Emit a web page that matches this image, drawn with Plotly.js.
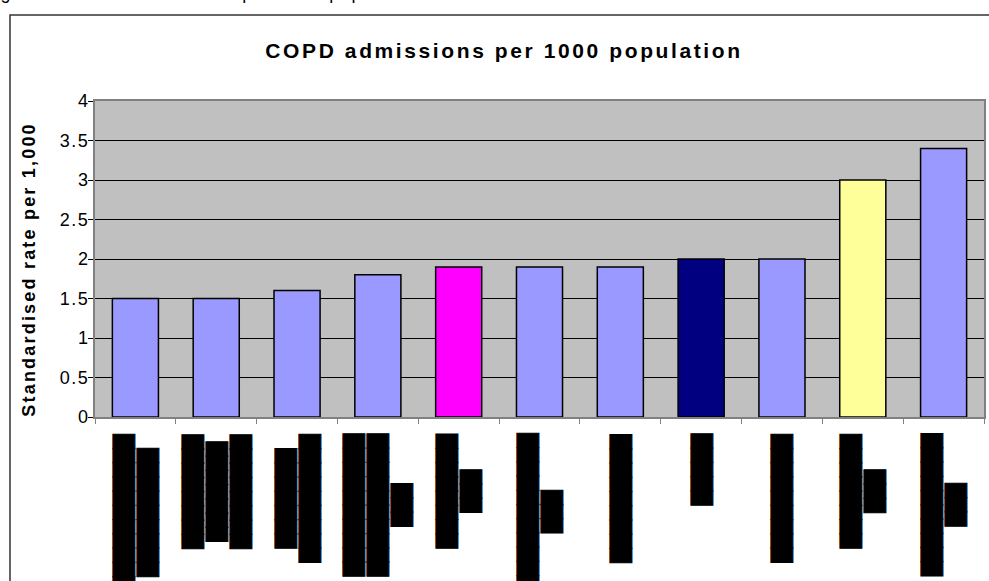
<!DOCTYPE html>
<html>
<head>
<meta charset="utf-8">
<script src="https://cdn.plot.ly/plotly-3.0.1.min.js"></script>
<style>
  html, body { margin: 0; padding: 0; background: #fff; }
  #chart { width: 989px; height: 581px; }
  .gtitle { letter-spacing: 2.6px; }
  .ytick text { letter-spacing: 1.5px; }
  g.annotation text.annotation-text { stroke: #000; stroke-width: 1px; opacity: 0.999; }
  g.annotation[data-index="11"] text.annotation-text { stroke: none; letter-spacing: 2.2px; opacity: 1; }
  g.annotation[data-index="12"] text.annotation-text { stroke: none; letter-spacing: 1.2px; opacity: 1; }
</style>
</head>
<body>
<div id="chart"></div>
<script>
// Category labels are redacted in the source: each label is a list of line lengths (in block characters)
const labelLineLengths = [[11, 9], [8, 7, 8], [7, 9], [10, 10, 3], [8, 3], [11, 3], [9], [5], [9], [8, 3], [10, 3]];
const categories = labelLineLengths.map(lines => lines.map(n => '\u2588'.repeat(n)).join('<br>'));
const values = [1.5, 1.5, 1.6, 1.8, 1.9, 1.9, 1.9, 2.0, 2.0, 3.0, 3.4];
const barColors = ['#9999FF', '#9999FF', '#9999FF', '#9999FF', '#FF00FF', '#9999FF', '#9999FF', '#000080', '#9999FF', '#FFFF99', '#9999FF'];
const yTicks = [0, 0.5, 1, 1.5, 2, 2.5, 3, 3.5, 4];
const chartTitle = 'COPD admissions per 1000 population';
const yTitle = 'Standardised rate per 1,000';
const captionText = 'Figure 4: COPD admissions per 1000 population';

const xs = categories.map((_, i) => i);
const boundaries = [];
for (let i = 0; i <= categories.length; i++) boundaries.push(i - 0.5);

const trace = {
  type: 'bar',
  x: xs,
  y: values,
  width: 0.57,
  marker: { color: barColors, line: { color: '#000000', width: 1.5 } },
  hoverinfo: 'y',
  showlegend: false
};

const labelAnnotations = categories.map((txt, i) => ({
  text: txt,
  x: i, xref: 'x',
  y: 0, yref: 'paper',
  xanchor: 'center', yanchor: 'top',
  yshift: -14.5,
  textangle: -90,
  align: 'center',
  showarrow: false,
  font: { family: 'DejaVu Sans', size: 18.5, color: '#000000' }
}));

const layout = {
  width: 989,
  height: 581,
  margin: { l: 95, r: 5, t: 101, b: 164, pad: 0 },
  paper_bgcolor: '#FFFFFF',
  plot_bgcolor: '#C0C0C0',
  title: {
    text: '<b>' + chartTitle + '</b>',
    font: { family: 'Liberation Sans, Arial, sans-serif', size: 21, color: '#000000' },
    xref: 'container', x: 504 / 989, xanchor: 'center',
    yref: 'container', y: (581 - 51) / 581, yanchor: 'middle'
  },
  xaxis: {
    type: 'linear',
    range: [-0.5, categories.length - 0.5],
    tickmode: 'array',
    tickvals: boundaries,
    showticklabels: false,
    ticks: 'outside',
    ticklen: 5,
    tickcolor: '#808080',
    tickwidth: 1,
    showgrid: false,
    zeroline: false,
    showline: true,
    linecolor: '#808080',
    linewidth: 2,
    mirror: true,
    fixedrange: true
  },
  yaxis: {
    range: [0, 4],
    tickmode: 'array',
    tickvals: yTicks,
    ticktext: yTicks.map(v => String(v)),
    ticks: 'outside',
    ticklen: 5,
    tickcolor: '#000000',
    ticklabelstandoff: -5,
    tickfont: { family: 'Liberation Sans, Arial, sans-serif', size: 18, color: '#000000' },
    showgrid: true,
    gridcolor: '#000000',
    gridwidth: 1,
    zeroline: true,
    zerolinecolor: '#000000',
    zerolinewidth: 1,
    showline: true,
    linecolor: '#808080',
    linewidth: 2,
    mirror: true,
    fixedrange: true
  },
  annotations: labelAnnotations.concat([
    {
      text: '<b>' + yTitle + '</b>',
      xref: 'paper', x: (28.5 - 95) / 889,
      yref: 'paper', y: (417.5 - 270) / 316,
      xanchor: 'center', yanchor: 'middle',
      textangle: -90,
      showarrow: false,
      font: { family: 'Liberation Sans, Arial, sans-serif', size: 18, color: '#000000' }
    },
    {
      text: captionText,
      xref: 'paper', x: (8 - 95) / 889,
      yref: 'paper', y: 1,
      xanchor: 'left', yanchor: 'bottom',
      yshift: 96,
      showarrow: false,
      font: { family: 'Liberation Sans, Arial, sans-serif', size: 18, color: '#000000' }
    }
  ]),
  shapes: [
    {
      type: 'rect',
      xref: 'paper', yref: 'paper',
      x0: (10 - 95) / 889, x1: (1000 - 95) / 889,
      y0: (417.5 - 600) / 316, y1: (417.5 - 15.5) / 316,
      line: { color: '#333333', width: 1.5 },
      fillcolor: 'rgba(0,0,0,0)',
      layer: 'below'
    }
  ]
};

Plotly.newPlot('chart', [trace], layout, { displayModeBar: false, staticPlot: true });
</script>
</body>
</html>
